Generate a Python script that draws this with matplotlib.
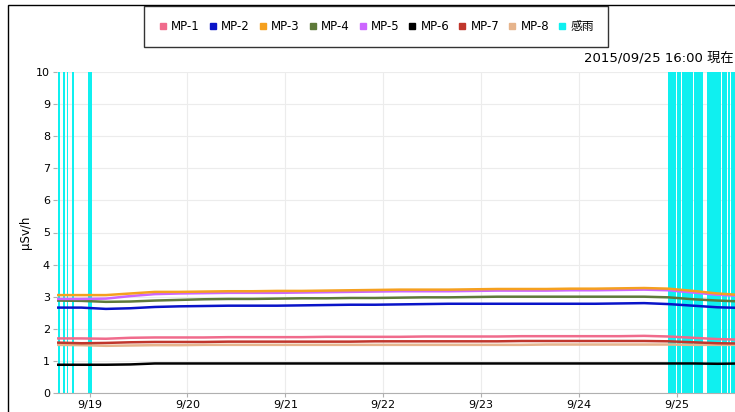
import numpy as np
import pandas as pd
import matplotlib
matplotlib.use('Agg')
import matplotlib.pyplot as plt
import matplotlib.dates as mdates
from matplotlib.lines import Line2D
from matplotlib.patches import Rectangle

plt.rcParams['font.family'] = ['DejaVu Sans', 'Noto Sans CJK JP']

# 6-hourly readings, 9/18 16:00 .. 9/25 16:00
times = pd.date_range('2015-09-18 16:00', '2015-09-25 16:00', freq='6h')

mp1 = [1.70, 1.70, 1.69, 1.72, 1.73, 1.73, 1.73, 1.74, 1.74, 1.74, 1.74, 1.75, 1.75, 1.75, 1.75,
       1.76, 1.76, 1.76, 1.76, 1.77, 1.77, 1.77, 1.77, 1.77, 1.78, 1.76, 1.72, 1.68, 1.66]
mp2 = [2.66, 2.66, 2.62, 2.64, 2.68, 2.70, 2.71, 2.72, 2.72, 2.72, 2.73, 2.74, 2.75, 2.75, 2.76,
       2.77, 2.78, 2.78, 2.78, 2.78, 2.78, 2.78, 2.78, 2.79, 2.80, 2.77, 2.72, 2.67, 2.65]
mp3 = [3.05, 3.05, 3.05, 3.10, 3.15, 3.15, 3.16, 3.17, 3.17, 3.18, 3.18, 3.19, 3.20, 3.21, 3.22,
       3.22, 3.22, 3.23, 3.24, 3.24, 3.24, 3.25, 3.25, 3.26, 3.27, 3.25, 3.18, 3.10, 3.05]
mp4 = [2.88, 2.87, 2.84, 2.85, 2.88, 2.90, 2.92, 2.93, 2.93, 2.94, 2.95, 2.95, 2.96, 2.96, 2.97,
       2.98, 2.98, 2.99, 3.00, 3.00, 3.00, 3.00, 3.00, 3.00, 3.00, 2.98, 2.92, 2.88, 2.85]
mp5 = [2.93, 2.93, 2.94, 3.02, 3.08, 3.10, 3.11, 3.12, 3.12, 3.12, 3.13, 3.14, 3.15, 3.16, 3.17,
       3.17, 3.17, 3.18, 3.19, 3.19, 3.19, 3.20, 3.20, 3.21, 3.22, 3.20, 3.13, 3.06, 3.02]
mp6 = [0.88, 0.88, 0.88, 0.89, 0.92, 0.92, 0.92, 0.92, 0.92, 0.92, 0.92, 0.92, 0.92, 0.92, 0.92,
       0.92, 0.92, 0.92, 0.92, 0.92, 0.92, 0.92, 0.92, 0.92, 0.92, 0.92, 0.92, 0.91, 0.92]
mp7 = [1.57, 1.55, 1.56, 1.58, 1.59, 1.59, 1.59, 1.60, 1.60, 1.60, 1.60, 1.60, 1.60, 1.61, 1.61,
       1.61, 1.61, 1.61, 1.61, 1.62, 1.62, 1.62, 1.62, 1.62, 1.62, 1.61, 1.58, 1.55, 1.54]
mp8 = [1.50, 1.49, 1.47, 1.48, 1.49, 1.49, 1.50, 1.50, 1.50, 1.50, 1.50, 1.50, 1.50, 1.50, 1.50,
       1.50, 1.50, 1.50, 1.50, 1.50, 1.51, 1.51, 1.51, 1.51, 1.51, 1.51, 1.50, 1.50, 1.50]

# rain sensor on (感雨) periods
rain_start = ['2015-09-18 16:10', '2015-09-18 17:25', '2015-09-18 18:20', '2015-09-18 19:35',
              '2015-09-18 23:30', '2015-09-24 21:50', '2015-09-25 00:05', '2015-09-25 01:20',
              '2015-09-25 04:20', '2015-09-25 07:20', '2015-09-25 11:05', '2015-09-25 12:35',
              '2015-09-25 13:15']
rain_end = ['2015-09-18 16:40', '2015-09-18 17:55', '2015-09-18 18:45', '2015-09-18 20:05',
            '2015-09-19 00:30', '2015-09-24 23:55', '2015-09-25 01:05', '2015-09-25 04:05',
            '2015-09-25 06:20', '2015-09-25 10:55', '2015-09-25 12:25', '2015-09-25 13:05',
            '2015-09-25 16:00']

names = ['MP-1', 'MP-2', 'MP-3', 'MP-4', 'MP-5', 'MP-6', 'MP-7', 'MP-8']
colors = ['#f06b8c', '#0a14c8', '#f5a01e', '#5e7a3a', '#cc66ff', '#000000', '#c0362c', '#e6b48c']
rain_color = '#0ff0f0'

fig = plt.figure(figsize=(7.35, 4.12), dpi=100)
ax = fig.add_axes([57 / 735, 19 / 412, 685 / 735, 321 / 412])

for s, e in zip(rain_start, rain_end):
    ax.axvspan(pd.Timestamp(s), pd.Timestamp(e), color=rain_color, lw=0, zorder=1)

series = [mp1, mp2, mp3, mp4, mp5, mp6, mp7, mp8]
order = [7, 6, 0, 5, 1, 3, 4, 2]
for i in order:
    ax.plot(times, series[i], color=colors[i], lw=1.8, zorder=3)

ax.set_xlim(pd.Timestamp('2015-09-18 16:00'), pd.Timestamp('2015-09-25 16:00'))
ax.set_ylim(0, 10)
ax.set_yticks(range(0, 11))
ax.xaxis.set_major_locator(mdates.DayLocator())
ax.xaxis.set_major_formatter(mdates.DateFormatter('%-m/%d'))
ax.grid(True, color='#ececec', lw=0.8, zorder=0)
ax.set_axisbelow(True)
for sp in ['top', 'right', 'left']:
    ax.spines[sp].set_visible(False)
ax.spines['bottom'].set_color('#b0b0b0')
ax.tick_params(axis='both', labelsize=8, color='#b0b0b0', length=3, pad=2)
ax.set_ylabel('μSv/h', fontsize=8.5, labelpad=3)

handles = [Line2D([], [], ls='none', marker='s', ms=5, color=c) for c in colors]
handles.append(Line2D([], [], ls='none', marker='s', ms=5, color=rain_color))
leg = fig.legend(handles, names + ['感雨'], loc='center', bbox_to_anchor=(376 / 735, 1 - 26.5 / 412),
                 ncol=9, fontsize=8.5, frameon=True, fancybox=False, handlelength=0.8,
                 handletextpad=0.3, columnspacing=0.7, borderpad=1.2)
leg.get_frame().set_edgecolor('black')
leg.get_frame().set_linewidth(1)

fig.text(584 / 735, 1 - 58 / 412, '2015/09/25 16:00 現在', fontsize=9.5, ha='left', va='center')

fig.add_artist(Rectangle((8 / 735, -0.1), 1.0, 1.1 - 5 / 412, transform=fig.transFigure,
                         fill=False, edgecolor='black', lw=1))

fig.savefig('out.png', dpi=100)
